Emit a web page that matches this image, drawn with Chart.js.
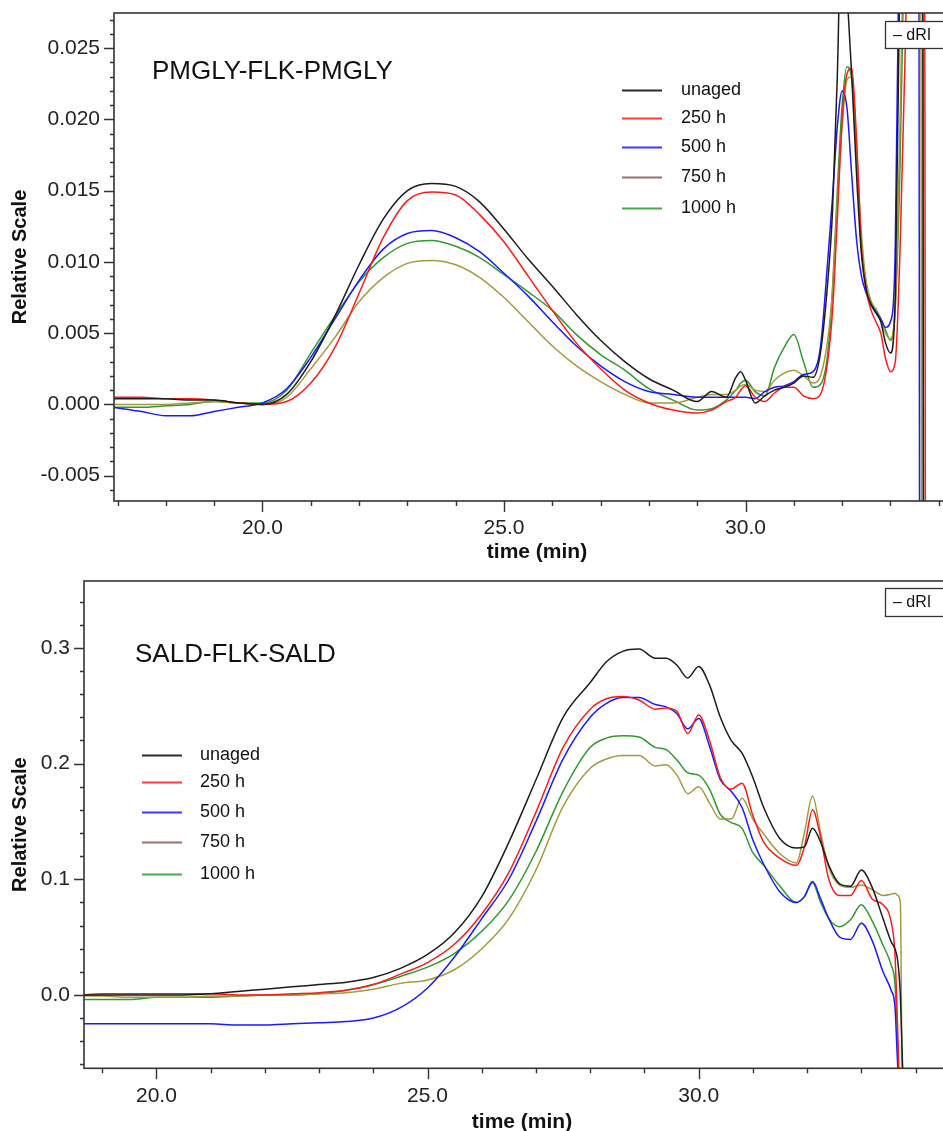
<!DOCTYPE html>
<html><head><meta charset="utf-8">
<script src="https://cdn.jsdelivr.net/npm/chart.js@4.4.0/dist/chart.umd.min.js"></script>
<style>
html,body{margin:0;padding:0;background:#fff;overflow:hidden;width:943px;height:1131px;}
canvas{position:absolute;left:0;}
#c1{top:0;} #c2{top:565px;}
</style></head><body>
<canvas id="c1" width="980" height="565"></canvas>
<canvas id="c2" width="980" height="580"></canvas>
<script>
// ---------- data ----------
const seriesLabels = ['unaged', '250 h', '500 h', '750 h', '1000 h'];
const xMajorTicks = [20, 25, 30];
const topYTicks = [-0.005, 0.000, 0.005, 0.010, 0.015, 0.020, 0.025];
const bottomYTicks = [0.0, 0.1, 0.2, 0.3];

// PMGLY-FLK-PMGLY (top)
const topTime = [16.9,17.5,18,18.5,19,19.5,20,20.5,21,21.5,22,22.5,23,23.5,24,24.5,25,25.5,26,26.5,27,27.5,28,28.5,29,29.3,29.6,29.8,29.9,30.0,30.2,30.4,30.6,30.8,31.0,31.2,31.4,31.55,31.7,31.8,31.9,32.0,32.1,32.2,32.3,32.4,32.5,32.6,32.7,32.8,32.9,33.0,33.1,33.2,33.3,33.4,33.5,33.58,33.62,33.66,33.7,33.74,33.8];
const topUnaged = [0.0004,0.0004,0.0004,0.0003,0.0003,0.0001,0.0000,0.0007,0.0030,0.0062,0.0098,0.0130,0.0150,0.0155,0.0153,0.0142,0.0123,0.0102,0.0083,0.0063,0.0045,0.0030,0.0018,0.0010,0.0002,0.0009,0.0005,0.0019,0.0023,0.0017,0.0001,0.0006,0.0010,0.0012,0.0015,0.0020,0.0019,0.0036,0.0085,0.0135,0.0230,0.0360,0.0290,0.0230,0.0160,0.0105,0.0080,0.0070,0.0064,0.0058,0.0043,0.0036,0.0075,0.0320,0.0500,0.0500,0.0500,0.0500,0.0500,0.0500,-0.0500,-0.0500,-0.0500];
const top250 = [0.0005,0.0005,0.0004,0.0004,0.0003,0.0001,0.0000,0.0002,0.0015,0.0040,0.0078,0.0117,0.0143,0.0149,0.0147,0.0133,0.0114,0.0090,0.0066,0.0043,0.0025,0.0010,0.0001,-0.0004,-0.0006,-0.0004,0.0002,0.0005,0.0010,0.0013,0.0005,0.0002,0.0008,0.0012,0.0012,0.0006,0.0004,0.0007,0.0030,0.0065,0.0130,0.0200,0.0232,0.0236,0.0185,0.0110,0.0080,0.0066,0.0058,0.0050,0.0032,0.0023,0.0030,0.0110,0.0240,0.0400,0.0500,0.0500,0.0500,0.0500,0.0500,-0.0500,-0.0500];
const top500 = [-0.0002,-0.0005,-0.0008,-0.0008,-0.0005,-0.0002,0.0001,0.0011,0.0033,0.0060,0.0087,0.0109,0.0120,0.0122,0.0117,0.0107,0.0092,0.0076,0.0058,0.0041,0.0027,0.0016,0.0009,0.0007,0.0005,0.0005,0.0005,0.0005,0.0005,0.0005,0.0004,0.0009,0.0012,0.0013,0.0016,0.0021,0.0023,0.0040,0.0100,0.0145,0.0195,0.0220,0.0208,0.0160,0.0115,0.0090,0.0078,0.0070,0.0065,0.0060,0.0054,0.0058,0.0110,0.0380,0.0500,0.0500,0.0500,0.0500,-0.0500,-0.0500,-0.0500,-0.0500,-0.0500];
const top750 = [0.0000,0.0000,0.0000,0.0001,0.0002,0.0001,0.0000,0.0005,0.0025,0.0047,0.0072,0.0089,0.0099,0.0101,0.0098,0.0089,0.0075,0.0058,0.0041,0.0027,0.0016,0.0007,0.0001,0.0001,0.0005,0.0007,0.0007,0.0010,0.0013,0.0014,0.0010,0.0009,0.0017,0.0022,0.0024,0.0020,0.0015,0.0020,0.0045,0.0080,0.0140,0.0195,0.0228,0.0230,0.0180,0.0120,0.0085,0.0072,0.0067,0.0060,0.0050,0.0046,0.0070,0.0200,0.0380,0.0500,0.0500,0.0500,0.0500,-0.0500,-0.0500,-0.0500,-0.0500];
const top1000 = [-0.0002,-0.0002,-0.0001,0.0000,0.0002,0.0001,0.0001,0.0010,0.0036,0.0062,0.0086,0.0103,0.0113,0.0115,0.0111,0.0103,0.0091,0.0079,0.0066,0.0049,0.0035,0.0024,0.0011,0.0003,-0.0004,-0.0003,0.0003,0.0010,0.0015,0.0017,0.0009,0.0006,0.0026,0.0040,0.0049,0.0030,0.0012,0.0014,0.0035,0.0080,0.0150,0.0210,0.0237,0.0228,0.0175,0.0110,0.0085,0.0072,0.0066,0.0060,0.0052,0.0045,0.0068,0.0170,0.0350,0.0500,0.0500,0.0500,0.0500,0.0500,-0.0500,-0.0500,-0.0500];

// SALD-FLK-SALD (bottom)
const bottomTime = [18.6,19,19.5,20,20.5,21,21.5,22,22.5,23,23.5,24,24.5,25,25.5,26,26.5,27,27.5,28,28.3,28.6,28.9,29.2,29.4,29.6,29.8,30.0,30.2,30.4,30.6,30.8,31.0,31.2,31.5,31.8,31.95,32.1,32.25,32.4,32.6,32.8,33.0,33.2,33.4,33.55,33.62,33.67,33.72,33.76,33.8,34.0];
const bottomUnaged = [0.000,0.000,0.000,0.000,0.000,0.001,0.003,0.005,0.007,0.009,0.011,0.015,0.023,0.035,0.054,0.085,0.132,0.186,0.240,0.270,0.288,0.297,0.299,0.291,0.291,0.285,0.274,0.284,0.268,0.240,0.220,0.209,0.188,0.162,0.135,0.127,0.128,0.144,0.132,0.112,0.096,0.094,0.108,0.093,0.066,0.046,0.040,0.030,0.000,-0.060,-0.100,-0.100];
const bottom250 = [0.000,0.001,0.001,0.001,0.001,0.001,0.000,0.000,0.001,0.002,0.004,0.009,0.018,0.028,0.044,0.070,0.106,0.158,0.214,0.247,0.256,0.258,0.255,0.247,0.248,0.245,0.226,0.242,0.220,0.188,0.178,0.183,0.155,0.132,0.118,0.112,0.128,0.160,0.136,0.100,0.086,0.086,0.099,0.083,0.078,0.063,0.036,-0.030,-0.100,-0.100,-0.100,-0.100];
const bottom500 = [-0.025,-0.025,-0.025,-0.025,-0.025,-0.025,-0.026,-0.026,-0.025,-0.024,-0.023,-0.020,-0.011,0.006,0.033,0.066,0.100,0.150,0.204,0.240,0.252,0.257,0.257,0.251,0.249,0.243,0.230,0.239,0.215,0.186,0.176,0.162,0.134,0.113,0.089,0.080,0.085,0.098,0.083,0.066,0.050,0.048,0.062,0.047,0.020,0.004,-0.010,-0.060,-0.100,-0.100,-0.100,-0.100];
const bottom750 = [-0.001,-0.001,-0.002,-0.002,-0.002,-0.001,-0.001,0.000,0.000,0.001,0.002,0.005,0.010,0.013,0.022,0.040,0.066,0.108,0.163,0.196,0.204,0.207,0.207,0.198,0.199,0.190,0.174,0.180,0.166,0.152,0.152,0.170,0.152,0.139,0.122,0.114,0.140,0.172,0.140,0.110,0.095,0.093,0.095,0.091,0.086,0.087,0.088,0.086,0.080,-0.100,-0.100,-0.100];
const bottom1000 = [-0.004,-0.004,-0.004,-0.002,-0.002,-0.002,-0.001,0.000,0.000,0.001,0.004,0.009,0.016,0.024,0.036,0.055,0.082,0.124,0.176,0.214,0.222,0.224,0.223,0.214,0.212,0.203,0.192,0.190,0.178,0.156,0.149,0.144,0.123,0.112,0.094,0.080,0.085,0.097,0.080,0.066,0.059,0.065,0.078,0.064,0.043,0.026,0.010,-0.040,-0.100,-0.100,-0.100,-0.100];

// ---------- styles ----------
const lineColors = ['#1c1c1c', '#ff1a1a', '#1a1aff', '#a19b3b', '#2f9a2f'];
const legendColors = ['#2a2a2a', '#ff3b3b', '#3b3bff', '#9a6f6f', '#4aa84a'];
const FONT = '"Liberation Sans", Arial, Helvetica, sans-serif';
Chart.defaults.font.family = FONT;
Chart.defaults.color = '#222';

function pts(t, v) { return t.map((x, i) => ({ x: x, y: v[i] })); }

const decor = {
  id: 'decor',
  afterDraw(chart, args, o) {
    const ctx = chart.ctx, a = chart.chartArea, xs = chart.scales.x, ys = chart.scales.y;
    ctx.save();
    ctx.strokeStyle = '#333';
    ctx.lineWidth = 1.6;
    ctx.strokeRect(a.left, a.top, a.right - a.left, a.bottom - a.top);
    ctx.lineWidth = 1.4;
    ctx.beginPath();
    for (let k = Math.ceil(xs.min / o.xMinor - 1e-9); k * o.xMinor <= xs.max + 1e-9; k++) {
      const v = k * o.xMinor;
      const major = Math.abs(v / o.xMajor - Math.round(v / o.xMajor)) < 1e-6;
      const px = Math.round(xs.getPixelForValue(v)) + 0.5;
      ctx.moveTo(px, a.bottom);
      ctx.lineTo(px, a.bottom + (major ? 11 : 5));
    }
    for (let k = Math.ceil(ys.min / o.yMinor - 1e-9); k * o.yMinor <= ys.max + 1e-9; k++) {
      const v = k * o.yMinor;
      const major = Math.abs(v / o.yMajor - Math.round(v / o.yMajor)) < 1e-6;
      const py = Math.round(ys.getPixelForValue(v)) + 0.5;
      ctx.moveTo(a.left, py);
      ctx.lineTo(a.left - (major ? 10 : 4), py);
    }
    ctx.stroke();
    // title text
    ctx.fillStyle = '#111';
    ctx.textBaseline = 'middle';
    ctx.textAlign = 'left';
    ctx.font = '26px ' + FONT;
    ctx.fillText(o.title.text, o.title.x, o.title.y);
    // legend
    ctx.font = '18px ' + FONT;
    ctx.lineWidth = 2;
    seriesLabels.forEach((lab, i) => {
      const y = o.legend.ys[i];
      ctx.strokeStyle = legendColors[i];
      ctx.beginPath();
      ctx.moveTo(o.legend.x0, y + 0.5);
      ctx.lineTo(o.legend.x1, y + 0.5);
      ctx.stroke();
      ctx.fillStyle = '#111';
      ctx.fillText(lab, o.legend.tx, y);
    });
    // dRI box
    ctx.fillStyle = '#fff';
    ctx.fillRect(o.dri.x, o.dri.y, o.dri.w, o.dri.h);
    ctx.strokeStyle = '#333';
    ctx.lineWidth = 1.3;
    ctx.strokeRect(o.dri.x + 0.5, o.dri.y + 0.5, o.dri.w, o.dri.h);
    ctx.fillStyle = '#111';
    ctx.font = '16px ' + FONT;
    ctx.fillText('\u2013 dRI', o.dri.x + 8, o.dri.y + o.dri.h / 2 + 1);
    ctx.restore();
  }
};

function makeChart(id, time, values, sc, deco) {
  const datasets = values.map((v, i) => ({
    label: seriesLabels[i], data: pts(time, v), borderColor: lineColors[i],
    borderWidth: 1.5, pointRadius: 0, cubicInterpolationMode: 'monotone', fill: false
  }));
  return new Chart(document.getElementById(id), {
    type: 'line',
    data: { datasets: datasets },
    options: {
      responsive: false, animation: false, devicePixelRatio: 1,
      layout: { padding: { top: sc.top, right: 20, left: 0, bottom: 0 } },
      plugins: { legend: { display: false }, tooltip: { enabled: false }, decor: deco },
      scales: {
        x: {
          type: 'linear', min: sc.xmin, max: sc.xmax,
          grid: { display: false, drawTicks: false }, border: { display: false },
          afterBuildTicks: s => { s.ticks = xMajorTicks.map(v => ({ value: v })); },
          afterFit: s => { s.height = sc.xh; s.paddingLeft = 0; s.paddingRight = 0; },
          ticks: { autoSkip: false, maxRotation: 0, padding: sc.xpad, font: { size: 21 }, color: '#222',
                   callback: v => Number(v).toFixed(1) },
          title: { display: true, text: 'time (min)', color: '#111',
                   font: { size: 21, weight: 'bold' }, padding: { top: 0, bottom: sc.xtpad } }
        },
        y: {
          min: sc.ymin, max: sc.ymax,
          grid: { display: false, drawTicks: false }, border: { display: false },
          afterBuildTicks: s => { s.ticks = sc.yticks.map(v => ({ value: v })); },
          afterFit: s => { s.width = sc.left; s.paddingTop = 0; s.paddingBottom = 0; },
          ticks: { padding: 14, font: { size: 21 }, color: '#222',
                   callback: v => Number(v).toFixed(sc.ydec) },
          title: { display: true, text: 'Relative Scale', color: '#111',
                   font: { size: 20, weight: 'bold' }, padding: { top: 8, bottom: 0 } }
        }
      }
    },
    plugins: [decor]
  });
}

makeChart('c1', topTime, [topUnaged, top250, top500, top750, top1000],
  { top: 13, left: 114, xh: 64, xmin: 16.926, xmax: 34.44, ymin: -0.00678, ymax: 0.02747,
    yticks: topYTicks, ydec: 3, xpad: 15, xtpad: 0 },
  { xMinor: 1, xMajor: 5, yMinor: 0.001, yMajor: 0.005,
    title: { text: 'PMGLY-FLK-PMGLY', x: 152, y: 72 },
    legend: { x0: 622, x1: 662, tx: 681, ys: [90, 118, 147, 177, 208] },
    dri: { x: 885, y: 21, w: 80, h: 27 } });

makeChart('c2', bottomTime, [bottomUnaged, bottom250, bottom500, bottom750, bottom1000],
  { top: 16, left: 84, xh: 76.7, xmin: 18.664, xmax: 34.82, ymin: -0.0634, ymax: 0.3578,
    yticks: bottomYTicks, ydec: 1, xpad: 15, xtpad: 10 },
  { xMinor: 1, xMajor: 5, yMinor: 0.02, yMajor: 0.1,
    title: { text: 'SALD-FLK-SALD', x: 135, y: 90 },
    legend: { x0: 142, x1: 182, tx: 200, ys: [190, 217, 247, 277, 309] },
    dri: { x: 885, y: 23, w: 80, h: 28 } });
</script>
</body></html>
